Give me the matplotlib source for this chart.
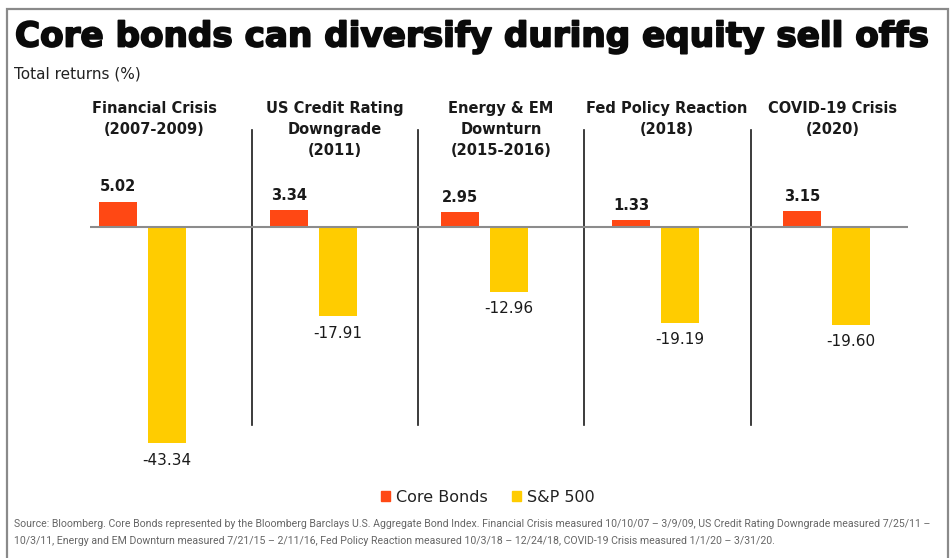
import matplotlib
matplotlib.use("Agg")
import matplotlib.pyplot as plt
import matplotlib.patheffects as pe
from matplotlib.patches import Patch, Rectangle
import numpy as np

plt.rcParams['font.family'] = ['DejaVu Sans']

# Data
periods = ["Financial Crisis\n(2007-2009)",
           "US Credit Rating\nDowngrade\n(2011)",
           "Energy & EM\nDownturn\n(2015-2016)",
           "Fed Policy Reaction\n(2018)",
           "COVID-19 Crisis\n(2020)"]
core_bonds = [5.02, 3.34, 2.95, 1.33, 3.15]
sp500 = [-43.34, -17.91, -12.96, -19.19, -19.60]

ORANGE = "#FF4814"
YELLOW = "#FFCC00"
W, H = 952, 558

fig = plt.figure(figsize=(W / 100, H / 100), dpi=100)


def fx(px):
    return px / W


def fy(py):
    return 1 - py / H


def fit_width(txt, target_px):
    # scale the font so the text spans target_px horizontally
    r = fig.canvas.get_renderer()
    w = txt.get_window_extent(r).width
    txt.set_fontsize(txt.get_fontsize() * target_px / w)


# grey frame around the panel (open at the bottom)
fig.add_artist(Rectangle((fx(7), fy(600)), fx(941), (600 - 9) / H,
                         transform=fig.transFigure, fill=False,
                         edgecolor="#8a8a8a", linewidth=1.6, clip_on=False))

title = fig.text(fx(15), fy(37), "Core bonds can diversify during equity sell offs",
                 fontsize=24, fontweight="bold", color="#0a0a0a", va="center", ha="left",
                 path_effects=[pe.withStroke(linewidth=1.3, foreground="#0a0a0a")])
fit_width(title, 914)
fig.text(fx(14), fy(74), "Total returns (%)", fontsize=11, color="#222222",
         va="center", ha="left")

ax = fig.add_axes([fx(90), fy(480), fx(908) - fx(90), (480 - 100) / H])
ax.set_xlim(-0.307, 4.477)
ax.set_ylim(-50.8, 25.5)
ax.axis("off")

x = np.arange(len(periods))
bw = 0.222
off = 0.143
ax.bar(x - off, core_bonds, bw, color=ORANGE, label="Core Bonds")
ax.bar(x + off, sp500, bw, color=YELLOW, label="S&P 500")
ax.axhline(0, color="#8c8c8c", linewidth=1.5, zorder=3)

# separators between periods
for sx in [0.640, 1.611, 2.582, 3.558]:
    ax.plot([sx, sx], [19.5, -39.8], color="#1a1a1a", linewidth=1.2)

# period headers
header_x = [0.07, 1.125, 2.096, 3.067, 4.037]
for hx, name in zip(header_x, periods):
    ax.text(hx, 25.3, name, ha="center", va="top", fontsize=10.5,
            fontweight="bold", color="#1a1a1a", linespacing=1.48)

for xi, v in zip(x, core_bonds):
    ax.annotate(f"{v:.2f}", (xi - off, v), xytext=(0, 11), textcoords="offset points",
                ha="center", va="center", fontsize=10.5, fontweight="bold", color="#1a1a1a")
for xi, v in zip(x, sp500):
    ax.annotate(f"{v:.2f}", (xi + off, v), xytext=(0, -12.5), textcoords="offset points",
                ha="center", va="center", fontsize=11, color="#1a1a1a")

handles = [Patch(color=ORANGE, label="Core Bonds"), Patch(color=YELLOW, label="S&P 500")]
fig.legend(handles=handles, loc="center", bbox_to_anchor=(fx(488), fy(497)), ncol=2,
           frameon=False, fontsize=11.5, handlelength=0.55, handleheight=0.55,
           handletextpad=0.4, columnspacing=1.5, labelcolor="#222222")

note1 = ("Source: Bloomberg. Core Bonds represented by the Bloomberg Barclays U.S. Aggregate Bond Index. "
         "Financial Crisis measured 10/10/07 \u2013 3/9/09, US Credit Rating Downgrade measured 7/25/11 \u2013")
note2 = ("10/3/11, Energy and EM Downturn measured 7/21/15 \u2013 2/11/16, Fed Policy Reaction measured "
         "10/3/18 \u2013 12/24/18, COVID-19 Crisis measured 1/1/20 \u2013 3/31/20.")
t1 = fig.text(fx(14), fy(524), note1, fontsize=7, family="Roboto",
              color="#666666", va="center", ha="left")
fit_width(t1, 918)
fig.text(fx(14), fy(541), note2, fontsize=t1.get_fontsize(), family="Roboto",
         color="#666666", va="center", ha="left")

fig.savefig("out.png", dpi=100)
